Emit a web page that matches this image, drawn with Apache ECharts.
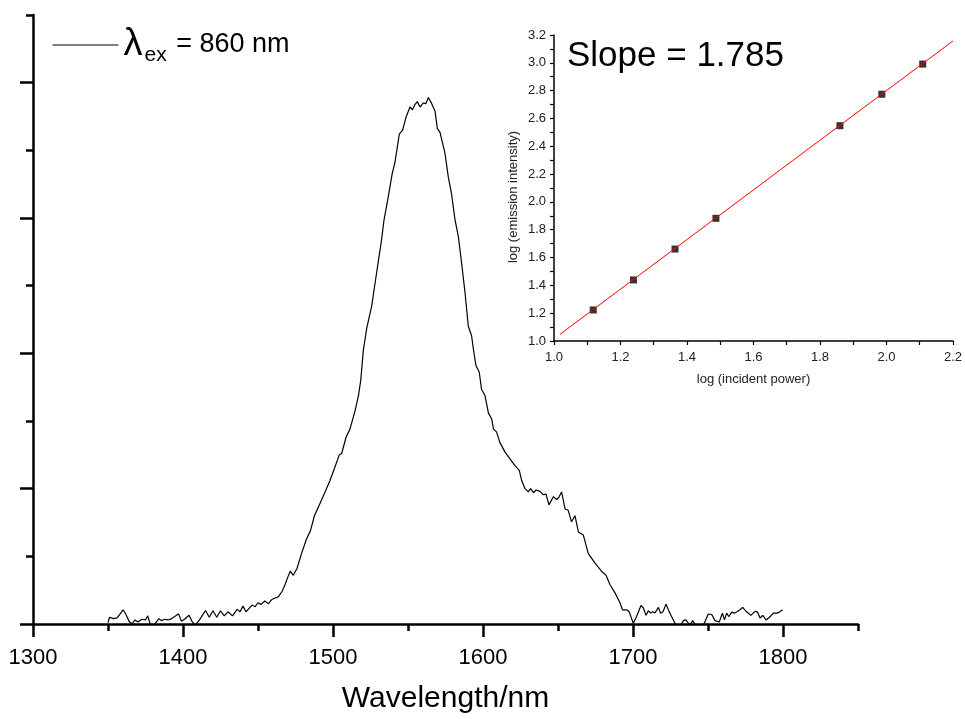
<!DOCTYPE html>
<html>
<head>
<meta charset="utf-8">
<script src="https://cdn.jsdelivr.net/npm/echarts@6/dist/echarts.min.js"></script>
<style>
  html, body { margin: 0; padding: 0; background: #fff; }
  #chart { width: 965px; height: 719px; }
</style>
</head>
<body>
<div id="chart"></div>
<script>
// emission spectrum
const wavelength = [
  1350, 1351, 1353.5, 1356, 1358.5, 1360, 1362, 1364, 1366, 1368, 1370, 1372.5, 1375, 1376.5, 1378, 1380,
  1382.5, 1384, 1385.5, 1388, 1390, 1392.5, 1395, 1397, 1399, 1401, 1404, 1406, 1408, 1411, 1415, 1417.5,
  1420, 1422.5, 1425, 1427.5, 1430, 1433, 1436, 1438, 1440, 1442, 1446, 1448, 1450, 1452, 1454.5, 1457,
  1459, 1461, 1463.5, 1466, 1468, 1470, 1471.5, 1473.5, 1476, 1479, 1482.4, 1485, 1487.6, 1491.3, 1494.7,
  1498, 1501.3, 1504.2, 1505.8, 1508.7, 1511.3, 1514.7, 1517, 1518.5, 1520.2, 1522.4, 1525.8, 1529, 1532.4,
  1534, 1536.9, 1539.5, 1541.3, 1544.2, 1546.4, 1548.7, 1551.3, 1553, 1554.7, 1556.2, 1558, 1560.2, 1561.8,
  1563.6, 1565.8, 1568, 1569.6, 1571.3, 1574.7, 1576.9, 1579, 1581.3, 1583.6, 1585.8, 1588, 1590.2, 1592.4,
  1593.6, 1595.3, 1597.5, 1599, 1601.3, 1603.6, 1605.8, 1607, 1609, 1611.3, 1614.7, 1618, 1621.3, 1624.2,
  1625.8, 1628, 1630.2, 1631.8, 1633.6, 1635.3, 1638, 1640.2, 1642, 1644, 1646.9, 1649.1, 1650.5, 1652.4,
  1654.7, 1656.8, 1659, 1661.3, 1663.6, 1666.9, 1670.2, 1674.7, 1679, 1682, 1684.7, 1688, 1690.9, 1693,
  1695.8, 1697.3, 1700.2, 1702.4, 1705.3, 1706.9, 1708.7, 1710.2, 1711.8, 1713.2, 1714.7, 1716.9, 1718.4,
  1720, 1722, 1723.6, 1725.1, 1728, 1730, 1731.8, 1733.6, 1735.3, 1737, 1738.5, 1739.8, 1741.5, 1744, 1746,
  1747.5, 1750.2, 1752.5, 1754.7, 1757.5, 1759.6, 1761, 1762.4, 1764, 1765.8, 1767.5, 1769.6, 1771.3, 1773.1,
  1775, 1776.9, 1778.6, 1781.3, 1783, 1784.7, 1786.5, 1788.7, 1791, 1793.6, 1795.8, 1797.6, 1799.8
];
const intensity = [
  0.01, 0.05, 0.04, 0.045, 0.08, 0.105, 0.07, 0.02, 0.0, 0.03, 0.015, 0.035, 0.03, 0.06, 0.005, -0.02,
  0.02, 0.04, 0.025, 0.035, 0.03, 0.04, 0.06, 0.075, 0.02, 0.035, 0.065, 0.02, -0.01, 0.03, 0.1, 0.05,
  0.098, 0.05, 0.098, 0.06, 0.09, 0.06, 0.108, 0.09, 0.132, 0.09, 0.14, 0.127, 0.157, 0.145, 0.17, 0.15,
  0.179, 0.19, 0.2, 0.24, 0.29, 0.35, 0.39, 0.36, 0.41, 0.52, 0.63, 0.69, 0.8, 0.89, 0.976,
  1.06, 1.16, 1.25, 1.26, 1.38, 1.44, 1.575, 1.69, 1.8, 2.02, 2.18, 2.35, 2.59, 2.84,
  2.985, 3.16, 3.33, 3.41, 3.62, 3.65, 3.745, 3.82, 3.8, 3.84, 3.86, 3.82, 3.85, 3.845,
  3.89, 3.845, 3.79, 3.66, 3.635, 3.475, 3.3, 3.18, 2.99, 2.86, 2.66, 2.45, 2.2, 2.13,
  2.03, 1.91, 1.86, 1.735, 1.69, 1.56, 1.515, 1.44, 1.42, 1.34, 1.27, 1.22, 1.17, 1.135,
  1.06, 1.0, 0.976, 1.0, 0.97, 0.99, 0.98, 0.955, 0.96, 0.88, 0.94, 0.92, 0.935, 0.976,
  0.85, 0.84, 0.755, 0.8, 0.68, 0.657, 0.52, 0.45, 0.39, 0.36, 0.29, 0.23, 0.167, 0.105,
  0.105, 0.093, 0.005, 0.056, 0.137, 0.118, 0.064, 0.098, 0.081, 0.09, 0.081, 0.123, 0.08,
  0.09, 0.147, 0.105, 0.069, 0.005, -0.03, -0.01, 0.025, 0.03, 0.005, 0.0, 0.025, -0.005, -0.03, -0.01,
  0.005, 0.074, 0.07, 0.025, 0.015, 0.08, 0.03, 0.08, 0.055, 0.088, 0.08, 0.093, 0.105, 0.123,
  0.098, 0.08, 0.064, 0.093, 0.088, 0.044, 0.064, 0.03, 0.05, 0.08, 0.08, 0.088, 0.105
];

// inset: power dependence
const logPower = [1.118, 1.239, 1.364, 1.487, 1.86, 1.986, 2.109];
const logEmission = [1.223, 1.439, 1.661, 1.882, 2.548, 2.774, 2.991];
const fitX = [1.018, 2.2];
const fitY = [1.048, 3.157];

const mainXMajor = [1300, 1400, 1500, 1600, 1700, 1800];
const mainYMajor = [0, 1, 2, 3, 4];

const font = '"Liberation Sans", Arial, sans-serif';

const spectrum = wavelength.map((w, i) => [w, intensity[i]]);
const points = logPower.map((x, i) => [x, logEmission[i]]);
const fit = fitX.map((x, i) => [x, fitY[i]]);

const chart = echarts.init(document.getElementById('chart'), null, { renderer: 'canvas' });

const option = {
  backgroundColor: '#fff',
  animation: false,
  textStyle: { fontFamily: font, color: '#000' },
  title: {
    text: 'Slope = 1.785',
    left: 567,
    top: 39,
    padding: 0,
    textStyle: { fontFamily: font, fontSize: 35, fontWeight: 'normal', color: '#000' }
  },
  legend: {
    data: ['spectrum'],
    left: 52,
    top: 26,
    padding: 0,
    itemWidth: 66,
    itemHeight: 38,
    itemStyle: { opacity: 0 },
    lineStyle: { width: 1, color: '#000' },
    formatter: () => '{a|λ}{b|ex}{c| = 860 nm}',
    textStyle: {
      color: '#000',
      rich: {
        a: { fontFamily: font, fontSize: 38, color: '#000', padding: [0, 2, 0, 0] },
        b: { fontFamily: font, fontSize: 21, color: '#000', padding: [20, 2, 0, 0] },
        c: { fontFamily: font, fontSize: 27, color: '#000' }
      }
    }
  },
  grid: [
    { left: 33, top: 15, right: 107, bottom: 93 },
    { left: 554, top: 35, right: 12, bottom: 378 }
  ],
  xAxis: [
    {
      gridIndex: 0, type: 'value', min: 1300, max: 1850, interval: 50,
      axisLine: { lineStyle: { color: '#000', width: 2.5 } },
      axisTick: { length: 7, lineStyle: { color: '#000', width: 2.5 } },
      axisLabel: {
        margin: 23, fontSize: 22, color: '#000', fontFamily: font,
        formatter: v => (v % 100 === 0 && v <= 1800 ? String(v) : '')
      },
      splitLine: { show: false },
      name: 'Wavelength/nm', nameLocation: 'middle', nameGap: 60,
      nameTextStyle: { fontSize: 30, color: '#000', fontFamily: font }
    },
    {
      gridIndex: 0, type: 'value', min: 1300, max: 1850, position: 'bottom',
      axisLine: { show: false },
      axisTick: { length: 13, customValues: mainXMajor, lineStyle: { color: '#000', width: 2.5 } },
      axisLabel: { show: false },
      splitLine: { show: false }
    },
    {
      gridIndex: 1, type: 'value', min: 1.0, max: 2.2, interval: 0.2,
      axisLine: { lineStyle: { color: '#000', width: 1.5 } },
      axisTick: { length: 4, lineStyle: { color: '#000', width: 1.2 } },
      minorTick: { show: true, splitNumber: 2, length: 4, lineStyle: { color: '#000', width: 1.2 } },
      axisLabel: { margin: 10, fontSize: 13, color: '#222', fontFamily: font, formatter: v => v.toFixed(1) },
      splitLine: { show: false },
      name: 'log (incident power)', nameLocation: 'middle', nameGap: 32,
      nameTextStyle: { fontSize: 13, color: '#222', fontFamily: font }
    }
  ],
  yAxis: [
    {
      gridIndex: 0, type: 'value', min: 0, max: 4.5, interval: 0.5,
      axisLine: { lineStyle: { color: '#000', width: 2.5 } },
      axisTick: { length: 7, lineStyle: { color: '#000', width: 2.5 } },
      axisLabel: { show: false },
      splitLine: { show: false }
    },
    {
      gridIndex: 0, type: 'value', min: 0, max: 4.5, position: 'left',
      axisLine: { show: false },
      axisTick: { length: 13, customValues: mainYMajor, lineStyle: { color: '#000', width: 2.5 } },
      axisLabel: { show: false },
      splitLine: { show: false }
    },
    {
      gridIndex: 1, type: 'value', min: 1.0, max: 3.2, interval: 0.2,
      axisLine: { lineStyle: { color: '#000', width: 1.5 } },
      axisTick: { length: 4, lineStyle: { color: '#000', width: 1.2 } },
      minorTick: { show: true, splitNumber: 2, length: 4, lineStyle: { color: '#000', width: 1.2 } },
      axisLabel: { margin: 8, fontSize: 13, color: '#222', fontFamily: font, formatter: v => v.toFixed(1) },
      splitLine: { show: false },
      name: 'log (emission intensity)', nameLocation: 'middle', nameGap: 34,
      nameTextStyle: { fontSize: 13, color: '#222', fontFamily: font, padding: [0, 18, 0, 0] }
    }
  ],
  series: [
    {
      name: 'spectrum', type: 'line', xAxisIndex: 0, yAxisIndex: 0,
      data: spectrum, showSymbol: false, symbol: 'none', smooth: false, clip: true,
      lineStyle: { color: '#000', width: 1.2 },
      itemStyle: { color: '#000' }
    },
    {
      name: 'points', type: 'scatter', xAxisIndex: 2, yAxisIndex: 2,
      data: points, symbol: 'rect', symbolSize: 7,
      itemStyle: { color: '#000' }
    },
    {
      name: 'fit', type: 'line', xAxisIndex: 2, yAxisIndex: 2,
      data: fit, showSymbol: false, symbol: 'none',
      lineStyle: { color: '#ff0000', width: 1 }
    }
  ]
};

chart.setOption(option);
</script>
</body>
</html>
